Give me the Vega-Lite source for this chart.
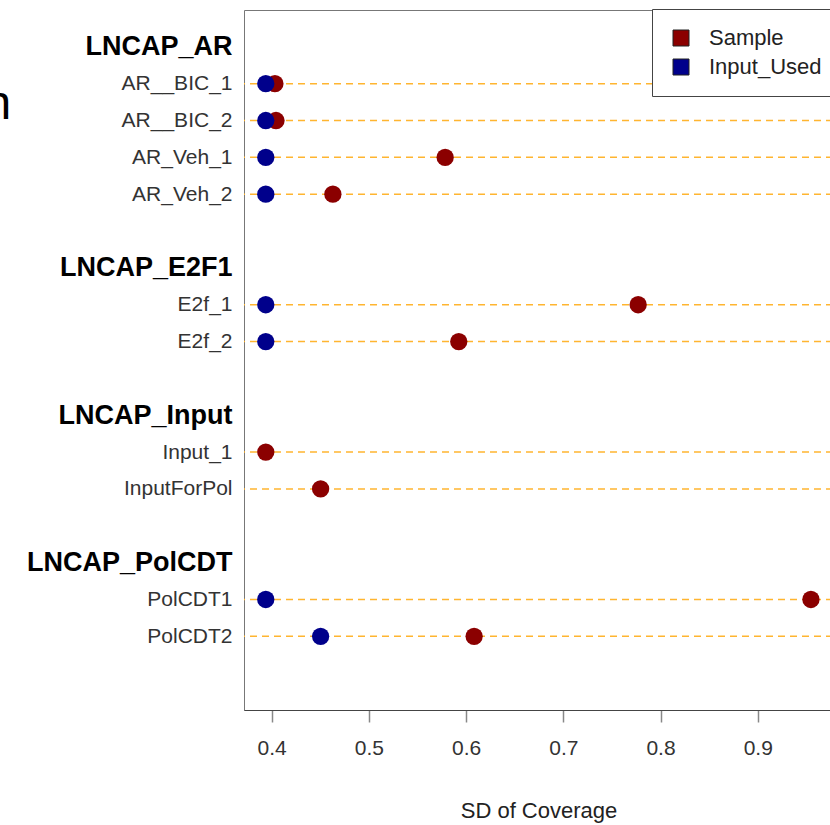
{
  "$schema": "https://vega.github.io/schema/vega-lite/v6.json",
  "autosize": {"type": "none"},
  "padding": {"left": 244, "top": 10, "right": 0, "bottom": 115},
  "width": 589,
  "height": 700,
  "config": {
    "font": "Liberation Sans",
    "view": {"stroke": "#777", "strokeWidth": 1}
  },
  "datasets": {
    "points": [
      {"label": "AR__BIC_1", "series": "Sample", "sd": 0.4034},
      {"label": "AR__BIC_2", "series": "Sample", "sd": 0.4045},
      {"label": "AR_Veh_1", "series": "Sample", "sd": 0.5785},
      {"label": "AR_Veh_2", "series": "Sample", "sd": 0.463},
      {"label": "E2f_1", "series": "Sample", "sd": 0.777},
      {"label": "E2f_2", "series": "Sample", "sd": 0.5925},
      {"label": "Input_1", "series": "Sample", "sd": 0.394},
      {"label": "InputForPol", "series": "Sample", "sd": 0.4504},
      {"label": "PolCDT1", "series": "Sample", "sd": 0.9547},
      {"label": "PolCDT2", "series": "Sample", "sd": 0.6083},
      {"label": "AR__BIC_1", "series": "Input_Used", "sd": 0.394},
      {"label": "AR__BIC_2", "series": "Input_Used", "sd": 0.394},
      {"label": "AR_Veh_1", "series": "Input_Used", "sd": 0.394},
      {"label": "AR_Veh_2", "series": "Input_Used", "sd": 0.394},
      {"label": "E2f_1", "series": "Input_Used", "sd": 0.394},
      {"label": "E2f_2", "series": "Input_Used", "sd": 0.394},
      {"label": "PolCDT1", "series": "Input_Used", "sd": 0.394},
      {"label": "PolCDT2", "series": "Input_Used", "sd": 0.4504}
    ],
    "rows": [
      {"label": "AR__BIC_1"}, {"label": "AR__BIC_2"}, {"label": "AR_Veh_1"}, {"label": "AR_Veh_2"},
      {"label": "E2f_1"}, {"label": "E2f_2"}, {"label": "Input_1"}, {"label": "InputForPol"},
      {"label": "PolCDT1"}, {"label": "PolCDT2"}
    ]
  },
  "encoding": {
    "y": {
      "field": "label",
      "type": "ordinal",
      "sort": null,
      "scale": {
        "type": "point",
        "padding": 1,
        "domain": ["LNCAP_AR", "AR__BIC_1", "AR__BIC_2", "AR_Veh_1", "AR_Veh_2", " ",
                   "LNCAP_E2F1", "E2f_1", "E2f_2", "  ",
                   "LNCAP_Input", "Input_1", "InputForPol", "   ",
                   "LNCAP_PolCDT", "PolCDT1", "PolCDT2", "    "]
      },
      "axis": {
        "title": "n",
        "titleAngle": 0,
        "titleX": -260,
        "titleY": 108,
        "titleAlign": "left",
        "titleBaseline": "alphabetic",
        "titleFontSize": 48,
        "titleFontWeight": "normal",
        "titleColor": "#000",
        "domain": false,
        "ticks": false,
        "grid": false,
        "labelPadding": 12,
        "labelLimit": 400,
        "labelFontSize": {"condition": {"test": "indexof(datum.value,'LNCAP')===0", "value": 27}, "value": 21},
        "labelFontWeight": {"condition": {"test": "indexof(datum.value,'LNCAP')===0", "value": "bold"}, "value": "normal"},
        "labelColor": {"condition": {"test": "indexof(datum.value,'LNCAP')===0", "value": "#000"}, "value": "#333"}
      }
    }
  },
  "layer": [
    {
      "data": {"name": "rows"},
      "mark": {"type": "rule", "color": "#FFB530", "strokeWidth": 1.5, "strokeDash": [7, 5]},
      "encoding": {}
    },
    {
      "data": {"name": "points"},
      "mark": {"type": "circle", "size": 300, "opacity": 1},
      "encoding": {
        "x": {
          "field": "sd",
          "type": "quantitative",
          "scale": {"domain": [0.3716, 0.9774], "nice": false, "zero": false},
          "axis": {
            "title": "SD of Coverage",
            "titleFontSize": 22,
            "titleFontWeight": "normal",
            "titleColor": "#222",
            "titlePadding": 42,
            "values": [0.4, 0.5, 0.6, 0.7, 0.8, 0.9],
            "format": ".1f",
            "grid": false,
            "domain": true,
            "domainColor": "#444",
            "ticks": true,
            "tickSize": 12,
            "tickColor": "#888",
            "tickWidth": 1.5,
            "labelFontSize": 21,
            "labelColor": "#333",
            "labelPadding": 15
          }
        },
        "color": {
          "field": "series",
          "type": "nominal",
          "scale": {"domain": ["Sample", "Input_Used"], "range": ["#8B0000", "#00008B"]},
          "legend": {
            "title": null,
            "orient": "none",
            "legendX": 408,
            "legendY": -1,
            "padding": 18,
            "rowPadding": 7,
            "symbolType": "square",
            "symbolSize": 256,
            "symbolStrokeColor": "#222",
            "symbolStrokeWidth": 1,
            "labelFontSize": 22,
            "labelColor": "#222",
            "labelOffset": 17,
            "strokeColor": "#444",
            "fillColor": "#fff"
          }
        }
      }
    }
  ]
}
